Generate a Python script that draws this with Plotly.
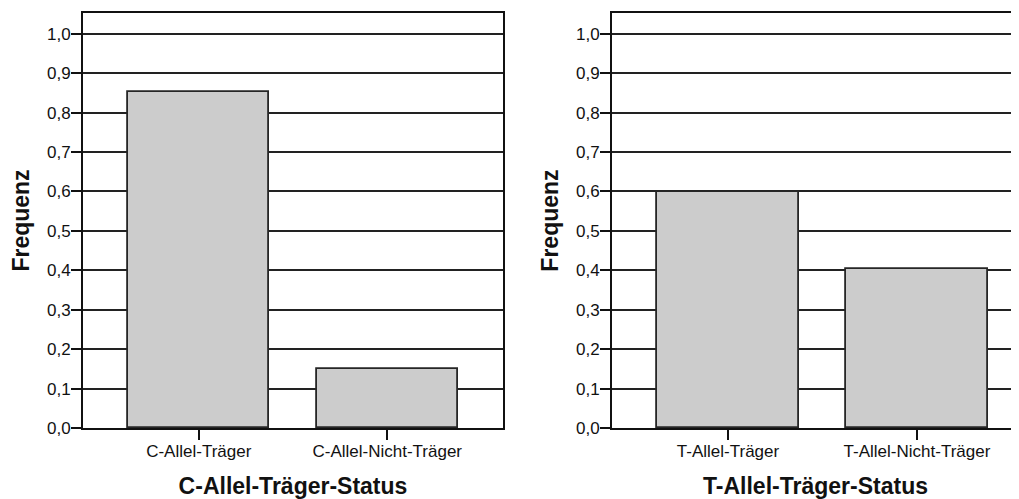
import plotly.graph_objects as go
from plotly.subplots import make_subplots

c_categories = ["C-Allel-Träger", "C-Allel-Nicht-Träger"]
c_freq = [0.851, 0.149]
t_categories = ["T-Allel-Träger", "T-Allel-Nicht-Träger"]
t_freq = [0.598, 0.402]
y_ticks = [0.0, 0.1, 0.2, 0.3, 0.4, 0.5, 0.6, 0.7, 0.8, 0.9, 1.0]
y_labels = ["0,0", "0,1", "0,2", "0,3", "0,4", "0,5", "0,6", "0,7", "0,8", "0,9", "1,0"]

FONT = "Liberation Sans, Arial, sans-serif"

# page body has an 8px margin, so the figure is 8px smaller than the window
W, H = 1011, 491

fig = make_subplots(rows=1, cols=2)

for col, cats, vals in [(1, c_categories, c_freq), (2, t_categories, t_freq)]:
    fig.add_trace(
        go.Bar(
            x=cats,
            y=vals,
            width=0.75,
            marker=dict(color="#cccccc", line=dict(color="#262626", width=1.8)),
            showlegend=False,
        ),
        row=1,
        col=col,
    )

axis_common = dict(
    showline=True,
    linecolor="#111111",
    linewidth=2,
    ticks="outside",
    tickcolor="#111111",
    tickwidth=2,
    ticklen=10,
    automargin=False,
    ticklabelstandoff=-3,
    tickfont=dict(family=FONT, size=17, color="#111111"),
)

x_title = dict(font=dict(size=23), standoff=19)
y_title = dict(text="<b>Frequenz</b>", font=dict(size=23), standoff=11)
y_common = dict(
    axis_common,
    range=[0, 1.0525],
    tickvals=y_ticks,
    ticktext=y_labels,
    showgrid=True,
    gridcolor="#222222",
    gridwidth=2,
    zeroline=False,
    title=y_title,
)

fig.update_layout(
    width=W,
    height=H,
    margin=dict(l=0, r=0, t=5, b=71),
    plot_bgcolor="white",
    paper_bgcolor="white",
    bargap=0,
    font=dict(family=FONT, color="#111111"),
    xaxis=dict(
        axis_common,
        domain=[75 / W, 495 / W],
        range=[-0.614, 1.614],
        mirror=True,
        title=dict(x_title, text="<b>C-Allel-Träger-Status</b>"),
    ),
    xaxis2=dict(
        axis_common,
        domain=[604 / W, 1.0],
        range=[-0.614, 1.54],
        mirror=True,
        title=dict(x_title, text="<b>T-Allel-Träger-Status</b>"),
    ),
    yaxis=dict(y_common, mirror=True),
    yaxis2=dict(y_common, mirror=False),
)

fig.write_html("out.html")
